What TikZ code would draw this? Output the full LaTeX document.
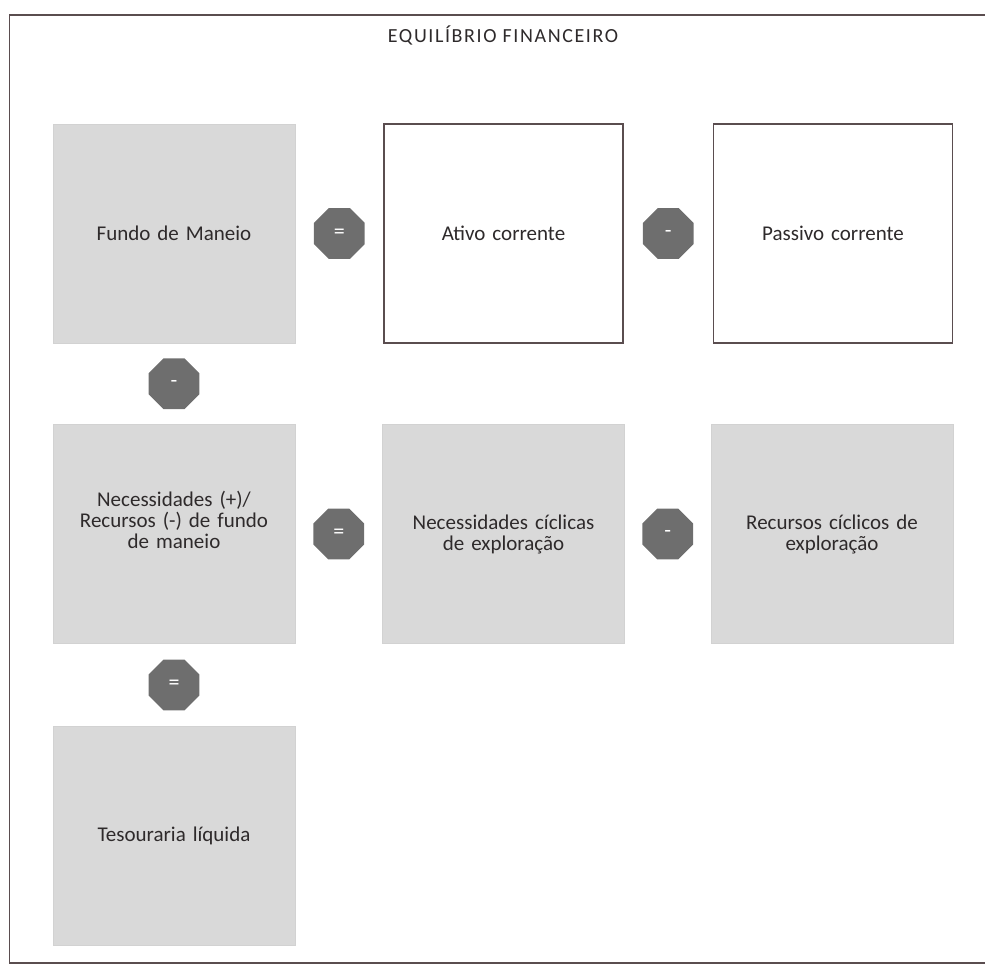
\documentclass[tikz,border=0pt]{standalone}
\usepackage{fontspec}
\setmainfont{Carlito}
\usetikzlibrary{shapes.geometric,calc}
\definecolor{boxgray}{HTML}{D9D9D9}
\definecolor{opgray}{HTML}{6E6E6E}
\definecolor{framecol}{HTML}{5A4D4F}
\definecolor{txt}{HTML}{2E2A2B}
\tikzset{
  every node/.style={text=txt, font=\fontsize{21}{21}\selectfont},
  graybox/.style={rectangle, fill=boxgray, draw=boxgray!97!black, line width=0.6pt,
    minimum width=242pt, minimum height=219pt, align=center, inner sep=0pt, text width=220pt},
  whitebox/.style={rectangle, fill=white, draw=framecol, line width=1.3pt,
    minimum width=239pt, minimum height=219pt, align=center, inner sep=0pt, text width=220pt},
  op/.style={regular polygon, regular polygon sides=8, fill=opgray, draw=none,
    minimum size=55pt, inner sep=0pt, text=white, font=\fontsize{22}{22}\selectfont},
}
\begin{document}
\begin{tikzpicture}[x=1pt, y=-1pt]
\useasboundingbox (0,0) rectangle (985,965);
% outer frame (open to the right)
\draw[framecol, line width=1.3pt] (990,15) -- (9.5,15) -- (9.5,963) -- (990,963);
\node[font=\fontsize{20}{20}\selectfont\addfontfeatures{LetterSpace=8}] (title) at (503,35) {EQUILÍBRIO FINANCEIRO};

% first row
\node[graybox]  (fm)  at (174,233.5) {Fundo de Maneio};
\node[whitebox] (ac)  at (503.5,233.5) {Ativo corrente};
\node[whitebox] (pc)  at (833,233.5) {Passivo corrente};
% second row (the first text block sits a little above the centre)
\node[graybox]  (nfm) at (174,534) {Necessidades (+)/\\Recursos (-) de fundo\\de maneio\\[7pt]\mbox{}};
\node[graybox]  (nce) at (503.5,534) {Necessidades cíclicas\\de exploração};
\node[graybox]  (rce) at (832,534) {Recursos cíclicos de\\exploração};
% third row
\node[graybox]  (tl)  at (174,836) {Tesouraria líquida};

% operators between the boxes
\node[op] (o1) at ($(fm.east)!0.5!(ac.west)$) {=};
\node[op] (o2) at ($(ac.east)!0.5!(pc.west)$) {-};
\node[op] (o3) at ($(fm.south)!0.5!(nfm.north)$) {-};
\node[op] (o4) at ($(nfm.east)!0.5!(nce.west)$) {=};
\node[op] (o5) at ($(nce.east)!0.5!(rce.west)$) {-};
\node[op] (o6) at ($(nfm.south)!0.5!(tl.north)$) {=};
\end{tikzpicture}
\end{document}
